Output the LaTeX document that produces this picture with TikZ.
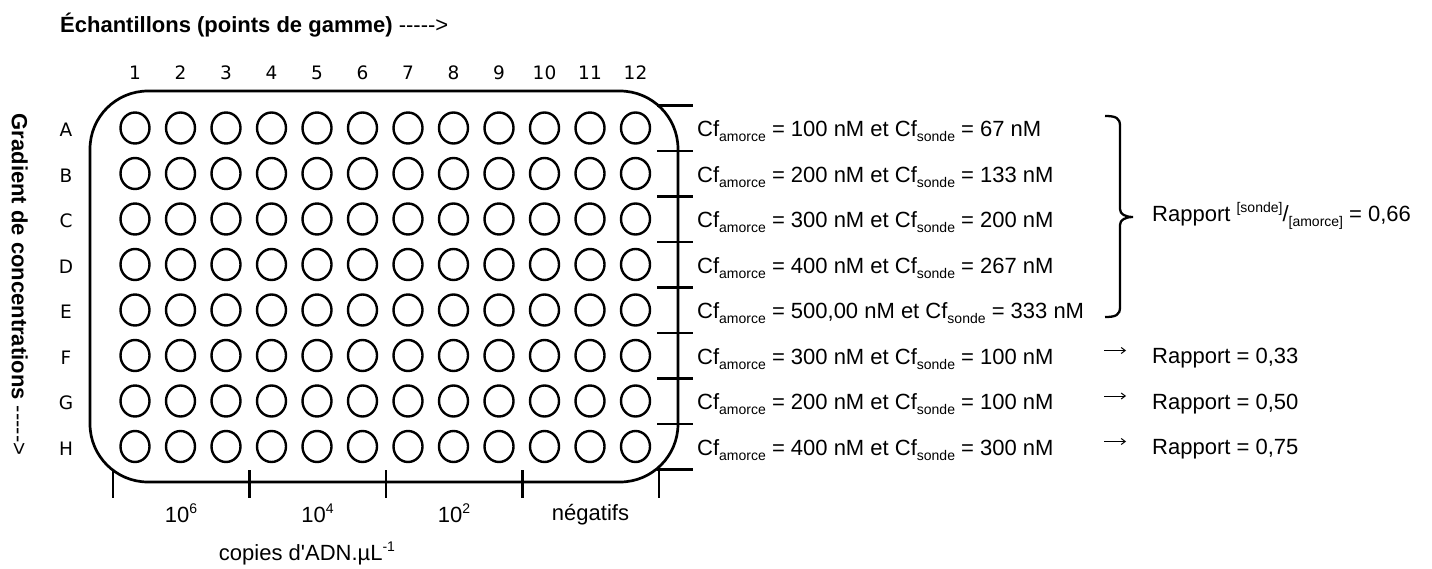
\documentclass[tikz,border=0pt]{standalone}
\usepackage{fontspec}
\setmainfont{Liberation Sans}[Ligatures=TeXOff]
\newfontfamily\numfont{DejaVu Sans}
\usetikzlibrary{shapes.geometric,arrows.meta,positioning}

\newcommand{\sbx}[1]{\raisebox{-5pt}{\fontsize{14}{14}\selectfont #1}}
\newcommand{\spx}[1]{\raisebox{9pt}{\fontsize{14}{14}\selectfont #1}}
\newcommand{\cfa}{Cf\sbx{amorce}}
\newcommand{\cfs}{Cf\sbx{sonde}}

\begin{document}
\begin{tikzpicture}[x=1pt,y=-1pt,
        every node/.style={font=\fontsize{22}{26}\selectfont,inner sep=0pt},
        well/.style={ellipse,draw=black,line width=2.4pt,minimum width=29pt,minimum height=31pt},
        lbl/.style={font=\numfont\fontsize{18.5}{20}\selectfont,anchor=base},
        cond/.style={anchor=base west},
        tick/.style={line width=2.5pt}]
        \useasboundingbox (0,0) rectangle (1432,568);
        % titles
        \node[anchor=base west] (titre) at (60,32) {\textbf{Échantillons (points de gamme)} ----->};
        \node[rotate=-90,anchor=base] (grad) at (12,284.5) {\textbf{Gradient de concentrations} ----->};
        % plate
        \draw[line width=2.7pt,rounded corners=58pt] (90,91) rectangle (678,482);
        \foreach \c in {1,...,12}
            \node[lbl] (n\c) at (89.5+45.5*\c,79) {\c};
        \foreach \r [count=\i from 0] in {A,...,H}{
            \node[lbl] (l\r) at (66,136.5+45.5*\i) {\r};
            \foreach \c in {1,...,12}
                \node[well] (w\r\c) at (89.5+45.5*\c,128+45.5*\i) {};
        }
        % separators
        \foreach \k in {0,...,8}
            \draw[tick] (657,105.25+45.5*\k) -- (693,105.25+45.5*\k);
        \draw[line width=1.8pt] (112.75,470) -- (112.75,498);
        \foreach \k in {1,...,3}
            \draw[tick] (112.75+136.5*\k,470) -- (112.75+136.5*\k,498);
        \draw[tick] (658.75,469.25) -- (658.75,498);
        % conditions
        \node[cond] (cA) at (697,136.5) {\cfa{} = 100 nM et \cfs{} = 67 nM};
        \node[cond] (cB) at (697,182) {\cfa{} = 200 nM et \cfs{} = 133 nM};
        \node[cond] (cC) at (697,227.5) {\cfa{} = 300 nM et \cfs{} = 200 nM};
        \node[cond] (cD) at (697,273) {\cfa{} = 400 nM et \cfs{} = 267 nM};
        \node[cond] (cE) at (697,318.5) {\cfa{} = 500,00 nM et \cfs{} = 333 nM};
        \node[cond] (cF) at (697,364) {\cfa{} = 300 nM et \cfs{} = 100 nM};
        \node[cond] (cG) at (697,409.5) {\cfa{} = 200 nM et \cfs{} = 100 nM};
        \node[cond] (cH) at (697,455) {\cfa{} = 400 nM et \cfs{} = 300 nM};
        % brace
        \draw[line width=2.3pt] (1105,116) .. controls (1116,116) and (1120,118) .. (1120,126)
            -- (1120,209) .. controls (1120,214) and (1125,217) .. (1133,217)
            .. controls (1125,217) and (1120,220) .. (1120,225)
            -- (1120,307) .. controls (1120,315) and (1116,317) .. (1105,317);
        \node[cond] (r66) at (1152,221) {Rapport \spx{[sonde]}/\sbx{[amorce]} = 0,66};
        % ratios
        \node[cond] (rF) at (1152,363.5) {Rapport = 0,33};
        \node[cond] (rG) at (1152,409) {Rapport = 0,50};
        \node[cond] (rH) at (1152,454.5) {Rapport = 0,75};
        \foreach \r/\y in {F/350.5,G/396,H/441.5}{
            \coordinate (a\r) at (1104,\y);
            \coordinate (b\r) at (1126,\y);
            \draw[line width=1pt,-{Straight Barb[length=4pt,width=6pt]}] (a\r) -- (b\r);
        }
        % concentrations
        \node[anchor=base] (d6) at (181,522) {10\spx{6}};
        \node[anchor=base] (d4) at (317.5,522) {10\spx{4}};
        \node[anchor=base] (d2) at (454,522) {10\spx{2}};
        \node[anchor=base] (neg) at (590.5,520) {négatifs};
        \node[anchor=base] (unit) at (307,560) {copies d'ADN.µL\spx{-1}};
\end{tikzpicture}
\end{document}
